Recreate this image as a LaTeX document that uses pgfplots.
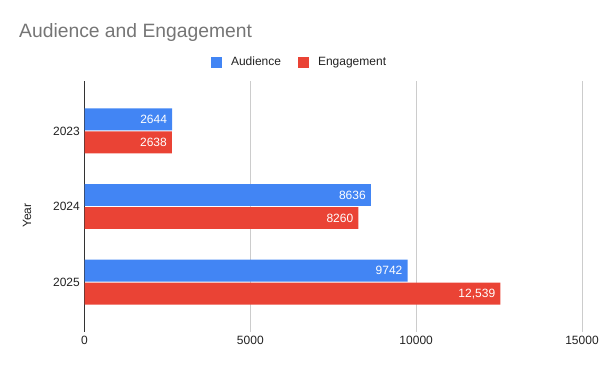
\documentclass[border=0pt]{standalone}
\usepackage{pgfplots}
\pgfplotsset{compat=1.18}
\usepackage{pgfplotstable}
\usepackage{fontspec}
\setmainfont{Liberation Sans}
\definecolor{audblue}{HTML}{4285F4}
\definecolor{engred}{HTML}{EA4335}
\definecolor{titlegray}{HTML}{757575}
\definecolor{txt}{HTML}{222222}
\definecolor{gridgray}{HTML}{CCCCCC}
\definecolor{axisdark}{HTML}{333333}
\pgfplotstableread{
y aud eng audl engl
0 2644 2638 2644 2638
1 8636 8260 8636 8260
2 9742 12539 9742 12,539
}\data
\begin{document}
\begin{tikzpicture}
\path (0,0) rectangle (600bp,371bp);
\begin{axis}[
  at={(84.5bp,39bp)}, anchor=south west,
  scale only axis, width=497.5bp, height=251bp,
  xbar, bar width=0.29,
  xmin=0, xmax=15000,
  ymin=-0.66, ymax=2.66, y dir=reverse,
  ytick={0,1,2}, yticklabels={2023,2024,2025},
  xtick={5000,10000,15000},
  extra x ticks={0},
  extra x tick style={grid style={axisdark, line width=1bp}},
  xmajorgrids, grid style={gridgray, line width=0.8bp},
  axis line style={draw=none},
  major tick length=0pt,
  tick label style={font=\fontsize{12bp}{14bp}\selectfont, text=txt, inner sep=0pt},
  yticklabel style={xshift=-4.5bp},
  xticklabel style={yshift=-4bp},
  scaled x ticks=false,
  /pgf/number format/assume math mode=true,
  /pgf/number format/1000 sep={},
  ylabel={Year},
  ylabel style={at={(axis description cs:-0.1156,0.464)}, anchor=center, font=\fontsize{12bp}{14bp}\selectfont, text=txt},
  title={Audience and Engagement},
  every axis title shift=0pt,
  title style={at={(axis description cs:-0.1317,1.1733)}, anchor=base west, yshift=0pt, font=\fontsize{19.3bp}{22bp}\selectfont, text=titlegray, inner sep=0pt},
  legend style={at={(axis description cs:0.2543,1.0757)}, anchor=west, draw=none, fill=none, inner sep=0pt, outer sep=0pt,
    font=\fontsize{12bp}{14bp}\selectfont, text=txt, legend columns=2,
    nodes={inner sep=0pt},
    /tikz/every odd column/.append style={column sep=9bp},
    /tikz/every even column/.append style={column sep=17bp}},
  nodes near coords,
  point meta=explicit symbolic,
  every node near coord/.append style={anchor=east, xshift=-5bp, text=white, inner sep=0pt, font=\fontsize{12bp}{14bp}\selectfont},
]
\addplot[fill=audblue, draw=none, bar shift=-0.152,
  legend image code/.code={\fill[audblue] (0bp,-5.5bp) rectangle (11bp,5.5bp);}]
  table[x=aud, y=y, meta=audl] {\data};
\addlegendentry{Audience}
\addplot[fill=engred, draw=none, bar shift=0.152,
  legend image code/.code={\fill[engred] (0bp,-5.5bp) rectangle (11bp,5.5bp);}]
  table[x=eng, y=y, meta=engl] {\data};
\addlegendentry{Engagement}
\end{axis}
\end{tikzpicture}
\end{document}
